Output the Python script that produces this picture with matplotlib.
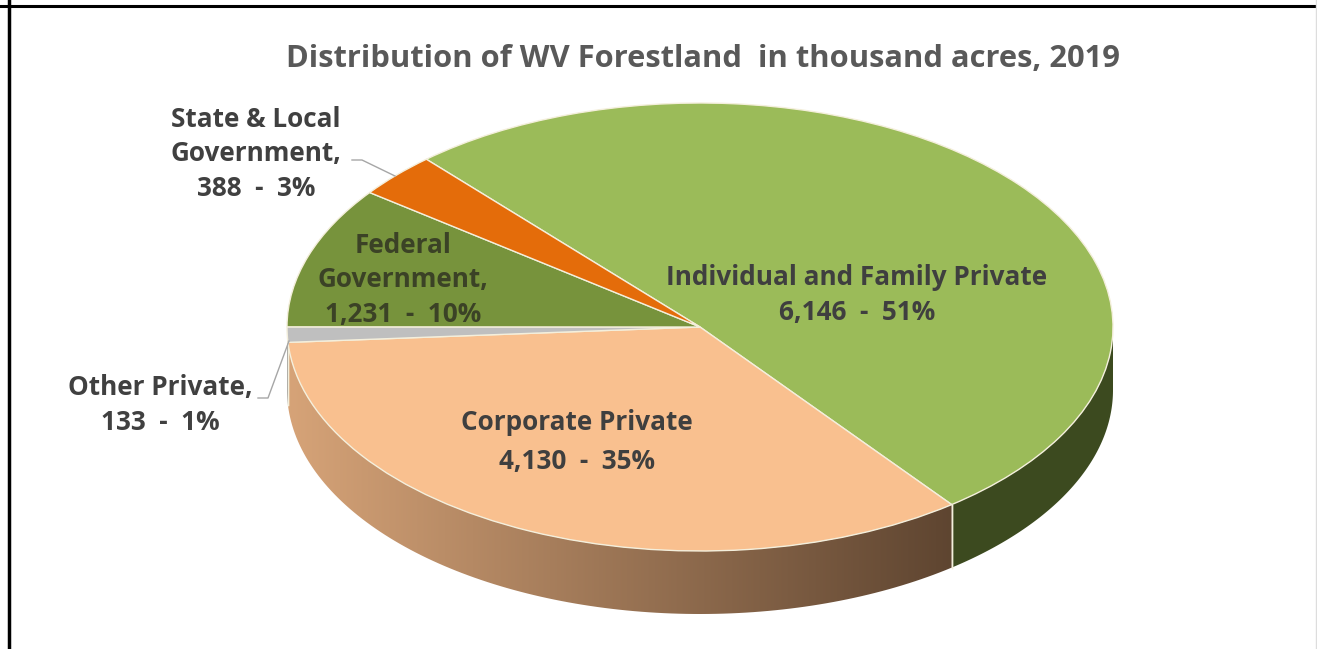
import matplotlib
matplotlib.use('Agg')
import matplotlib.pyplot as plt
import numpy as np
from matplotlib.patches import Polygon
from matplotlib.lines import Line2D

# data (thousand acres), in drawing order (clockwise from top-left)
categories = ['Individual and Family Private', 'Corporate Private', 'Other Private',
              'Federal Government', 'State & Local Government']
acres = [6146, 4130, 133, 1231, 388]
pct_labels = ['51%', '35%', '1%', '10%', '3%']
label_text = ['Individual and Family Private\n6,146  -  51%',
              'Corporate Private\n4,130  -  35%',
              'Other Private,\n133  -  1%',
              'Federal\nGovernment,\n1,231  -  10%',
              'State & Local\nGovernment,\n388  -  3%']
title = 'Distribution of WV Forestland  in thousand acres, 2019'

top_colors = ['#9BBB59', '#F9C08F', '#BFBFBF', '#77933C', '#E46C0A']
side_colors = ['#3C4A1F', None, '#8C8C8C', '#4F6228', '#9A4A08']

W, H = 1317, 649
cx, cy = 700, 327          # pie centre in pixels
rx, ry = 413, 224          # ellipse radii in pixels
depth = 63 / ry            # thickness in y units

plt.rcParams['font.family'] = ['Open Sans', 'DejaVu Sans']

fig = plt.figure(figsize=(W / 100, H / 100), dpi=100)
ax = fig.add_axes([0, 0, 1, 1])

wedges, _ = ax.pie(acres, colors=top_colors, startangle=131.5, counterclock=False,
                   radius=1, wedgeprops=dict(edgecolor='#F4EFDC', linewidth=1.0, zorder=3))
ax.set_aspect('auto')


def front_ranges(t1, t2):
    out = []
    for k in range(-2, 3):
        a, b = max(t1, 180 + 360 * k), min(t2, 360 + 360 * k)
        if b > a:
            out.append((a, b))
    return out


for i, w in enumerate(wedges):
    for a, b in front_ranges(w.theta1, w.theta2):
        t = np.radians(np.linspace(a, b, 120))
        xs = np.cos(t)
        ys = np.sin(t)
        pts = np.vstack([np.column_stack([xs, ys]),
                         np.column_stack([xs[::-1], ys[::-1] - depth])])
        if side_colors[i] is None:
            # gradient side for the corporate slice
            poly = Polygon(pts, closed=True, facecolor='none', edgecolor='none', zorder=2)
            ax.add_patch(poly)
            grad = np.linspace(0, 1, 256)
            c0 = np.array([0.84, 0.64, 0.47])
            c1 = np.array([0.37, 0.27, 0.19])
            img = (c0[None, :] * (1 - grad[:, None]) + c1[None, :] * grad[:, None])[None, :, :]
            im = ax.imshow(img, extent=[xs.min(), xs.max(), ys.min() - depth, ys.max()],
                           aspect='auto', zorder=2, interpolation='bilinear')
            im.set_clip_path(poly)
        else:
            ax.add_patch(Polygon(pts, closed=True, facecolor=side_colors[i],
                                 edgecolor='none', zorder=2))
        # white seam at slice boundaries on the side
        for ang in (a, b):
            if 181 < ang % 360 < 359:
                r = np.radians(ang)
                ax.plot([np.cos(r)] * 2, [np.sin(r), np.sin(r) - depth],
                        color='#F4EFDC', lw=1.0, zorder=2.5)

ax.set_xlim(-cx / rx, (W - cx) / rx)
ax.set_ylim(-(H - cy) / ry, cy / ry)
ax.axis('off')


def px(x, y):
    return x / W, 1 - y / H


fig.text(*px(703, 59), title, ha='center', va='center', fontsize=22.2,
         fontweight='bold', color='#595959')

text_style = dict(ha='center', va='center', fontsize=18.8, fontweight='bold')
fig.text(*px(857, 295), label_text[0], color='#3F3F3F', linespacing=1.38, **text_style)
fig.text(*px(577, 442), label_text[1], color='#3F3F3F', linespacing=1.55, **text_style)
fig.text(*px(160, 405), label_text[2], color='#404040', linespacing=1.38, **text_style)
fig.text(*px(403, 280), label_text[3], color='#3B4226', linespacing=1.38, **text_style)
fig.text(*px(256, 154), label_text[4], color='#404040', linespacing=1.38, **text_style)

# leader lines
lead = '#A6A6A6'
fig.add_artist(Line2D([352 / W, 362 / W, 395 / W], [1 - 160 / H, 1 - 160 / H, 1 - 176 / H],
                      color=lead, lw=1))
fig.add_artist(Line2D([258 / W, 268 / W, 289 / W], [1 - 398 / H, 1 - 398 / H, 1 - 341 / H],
                      color=lead, lw=1))

# frame of the screenshot
fig.add_artist(Line2D([0, 1], [1 - 5.5 / H] * 2, color='black', lw=2.2))
fig.add_artist(Line2D([9 / W] * 2, [0, 1], color='black', lw=2.5))
fig.add_artist(Line2D([1315.5 / W] * 2, [0, 1], color='#DDDDDD', lw=1))

fig.savefig('out.png', dpi=100)
